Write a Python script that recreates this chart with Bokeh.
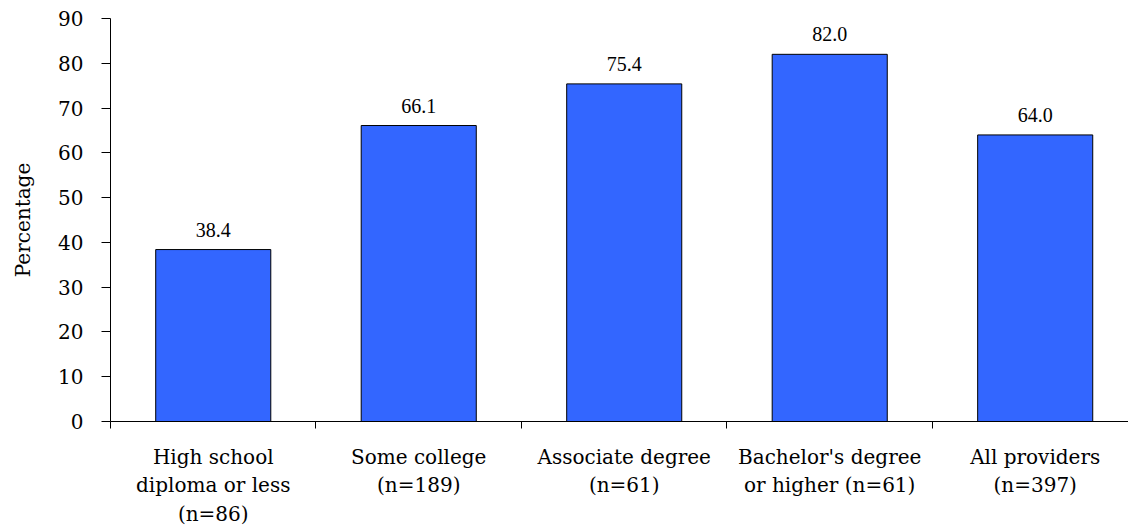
from bokeh.plotting import figure
from bokeh.models import Range1d, FixedTicker, ColumnDataSource, LabelSet
from bokeh.embed import file_html
from bokeh.resources import INLINE

categories = ["High school\ndiploma or less\n(n=86)", "Some college\n(n=189)",
              "Associate degree\n(n=61)", "Bachelor's degree\nor higher (n=61)",
              "All providers\n(n=397)"]
values = [38.4, 66.1, 75.4, 82.0, 64.0]
y_ticks = [0, 10, 20, 30, 40, 50, 60, 70, 80, 90]

FONT = "DejaVu Serif"
centers = [i + 0.5 for i in range(len(categories))]
src = ColumnDataSource(dict(x=centers, top=values, label=[f"{v:.1f}" for v in values]))

p = figure(width=1128, height=529, output_backend="svg", toolbar_location=None,
           x_range=Range1d(0, 4.954), y_range=Range1d(0, 90),
           min_border_left=110, min_border_right=0, min_border_top=18, min_border_bottom=108)
p.outline_line_color = None
p.xgrid.visible = False
p.ygrid.visible = False

p.vbar(x="x", top="top", width=0.56, bottom=0, source=src,
       fill_color="#3366FF", line_color="black", line_width=1)

labels = LabelSet(x="x", y="top", text="label", source=src, text_align="center",
                  text_baseline="bottom", y_offset=13, text_font=FONT,
                  text_font_size="20px", text_color="black")
p.add_layout(labels)

p.xaxis.ticker = FixedTicker(ticks=centers, minor_ticks=list(range(len(categories) + 1)))
p.xaxis.major_label_overrides = {c: lab for c, lab in zip(centers, categories)}
p.xaxis.major_tick_line_color = None
p.xaxis.minor_tick_out = 7
p.xaxis.minor_tick_in = 0
p.xaxis.minor_tick_line_color = "black"
p.xaxis.axis_line_color = "black"
p.xaxis.major_label_text_font = FONT
p.xaxis.major_label_text_font_size = "20px"
p.xaxis.major_label_text_color = "black"
p.xaxis.major_label_standoff = 16

p.yaxis.ticker = FixedTicker(ticks=y_ticks)
p.yaxis.minor_tick_line_color = None
p.yaxis.major_tick_out = 9
p.yaxis.major_tick_in = 0
p.yaxis.major_tick_line_color = "black"
p.yaxis.axis_line_color = "black"
p.yaxis.major_label_text_font = FONT
p.yaxis.major_label_text_font_size = "20px"
p.yaxis.major_label_text_color = "black"
p.yaxis.major_label_standoff = 18
p.yaxis.axis_label = "Percentage"
p.yaxis.axis_label_text_font = FONT
p.yaxis.axis_label_text_font_style = "normal"
p.yaxis.axis_label_text_font_size = "20px"
p.yaxis.axis_label_text_color = "black"
p.yaxis.axis_label_standoff = 20

open("out.html", "w").write(file_html(p, INLINE))
